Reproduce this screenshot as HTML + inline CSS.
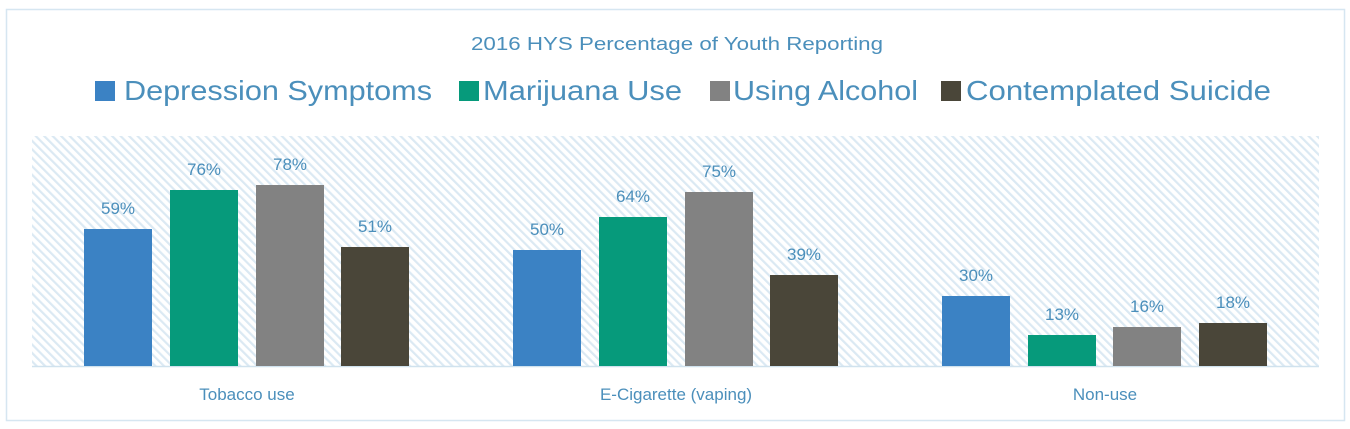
<!DOCTYPE html>
<html><head><meta charset="utf-8"><style>
html,body{margin:0;padding:0;background:#fff;}
svg{display:block;font-family:"Liberation Sans",sans-serif;}
</style></head><body>
<svg width="1350" height="429" viewBox="0 0 1350 429" xmlns="http://www.w3.org/2000/svg">
<defs>
<pattern id="h" width="6" height="6" patternUnits="userSpaceOnUse" patternTransform="rotate(-45)">
<rect width="6" height="6" fill="#ffffff"/>
<rect width="2.2" height="6" fill="#dbe9f3"/>
</pattern>
</defs>
<rect x="6.5" y="9.5" width="1338" height="411" fill="#fff" stroke="#d6e6f1" stroke-width="1.5"/>
<rect x="32" y="136" width="1287" height="230" fill="url(#h)"/>
<line x1="32" y1="366.5" x2="1319" y2="366.5" stroke="#d0e2ee" stroke-width="1.5"/>
<text x="677" y="50" text-anchor="middle" font-size="18" fill="#4b8fbb" textLength="412" lengthAdjust="spacingAndGlyphs">2016 HYS Percentage of Youth Reporting</text>
<g font-size="28" fill="#4b8fbb">
<rect x="95" y="81" width="20" height="20" fill="#3b82c4"/>
<text x="124" y="100" textLength="308" lengthAdjust="spacingAndGlyphs">Depression Symptoms</text>
<rect x="459" y="81" width="20" height="20" fill="#069a7b"/>
<text x="483" y="100" textLength="199" lengthAdjust="spacingAndGlyphs">Marijuana Use</text>
<rect x="710" y="81" width="20" height="20" fill="#828282"/>
<text x="733" y="100" textLength="185" lengthAdjust="spacingAndGlyphs">Using Alcohol</text>
<rect x="941" y="81" width="20" height="20" fill="#4a4639"/>
<text x="966" y="100" textLength="305" lengthAdjust="spacingAndGlyphs">Contemplated Suicide</text>
</g>
<g>
<rect x="84" y="229" width="68" height="137" fill="#3b82c4"/>
<rect x="170" y="190" width="68" height="176" fill="#069a7b"/>
<rect x="256" y="185" width="68" height="181" fill="#828282"/>
<rect x="341" y="247" width="68" height="119" fill="#4a4639"/>
<rect x="513" y="250" width="68" height="116" fill="#3b82c4"/>
<rect x="599" y="217" width="68" height="149" fill="#069a7b"/>
<rect x="685" y="192" width="68" height="174" fill="#828282"/>
<rect x="770" y="275" width="68" height="91" fill="#4a4639"/>
<rect x="942" y="296" width="68" height="70" fill="#3b82c4"/>
<rect x="1028" y="335" width="68" height="31" fill="#069a7b"/>
<rect x="1113" y="327" width="68" height="39" fill="#828282"/>
<rect x="1199" y="323" width="68" height="43" fill="#4a4639"/>
</g>
<g font-size="17" fill="#4b8fbb" text-anchor="middle">
<text x="118" y="214">59%</text>
<text x="204" y="175">76%</text>
<text x="290" y="170">78%</text>
<text x="375" y="232">51%</text>
<text x="547" y="235">50%</text>
<text x="633" y="202">64%</text>
<text x="719" y="177">75%</text>
<text x="804" y="260">39%</text>
<text x="976" y="281">30%</text>
<text x="1062" y="320">13%</text>
<text x="1147" y="312">16%</text>
<text x="1233" y="308">18%</text>
<text x="247" y="400">Tobacco use</text>
<text x="676" y="400">E-Cigarette (vaping)</text>
<text x="1105" y="400">Non-use</text>
</g>
</svg>
</body></html>
